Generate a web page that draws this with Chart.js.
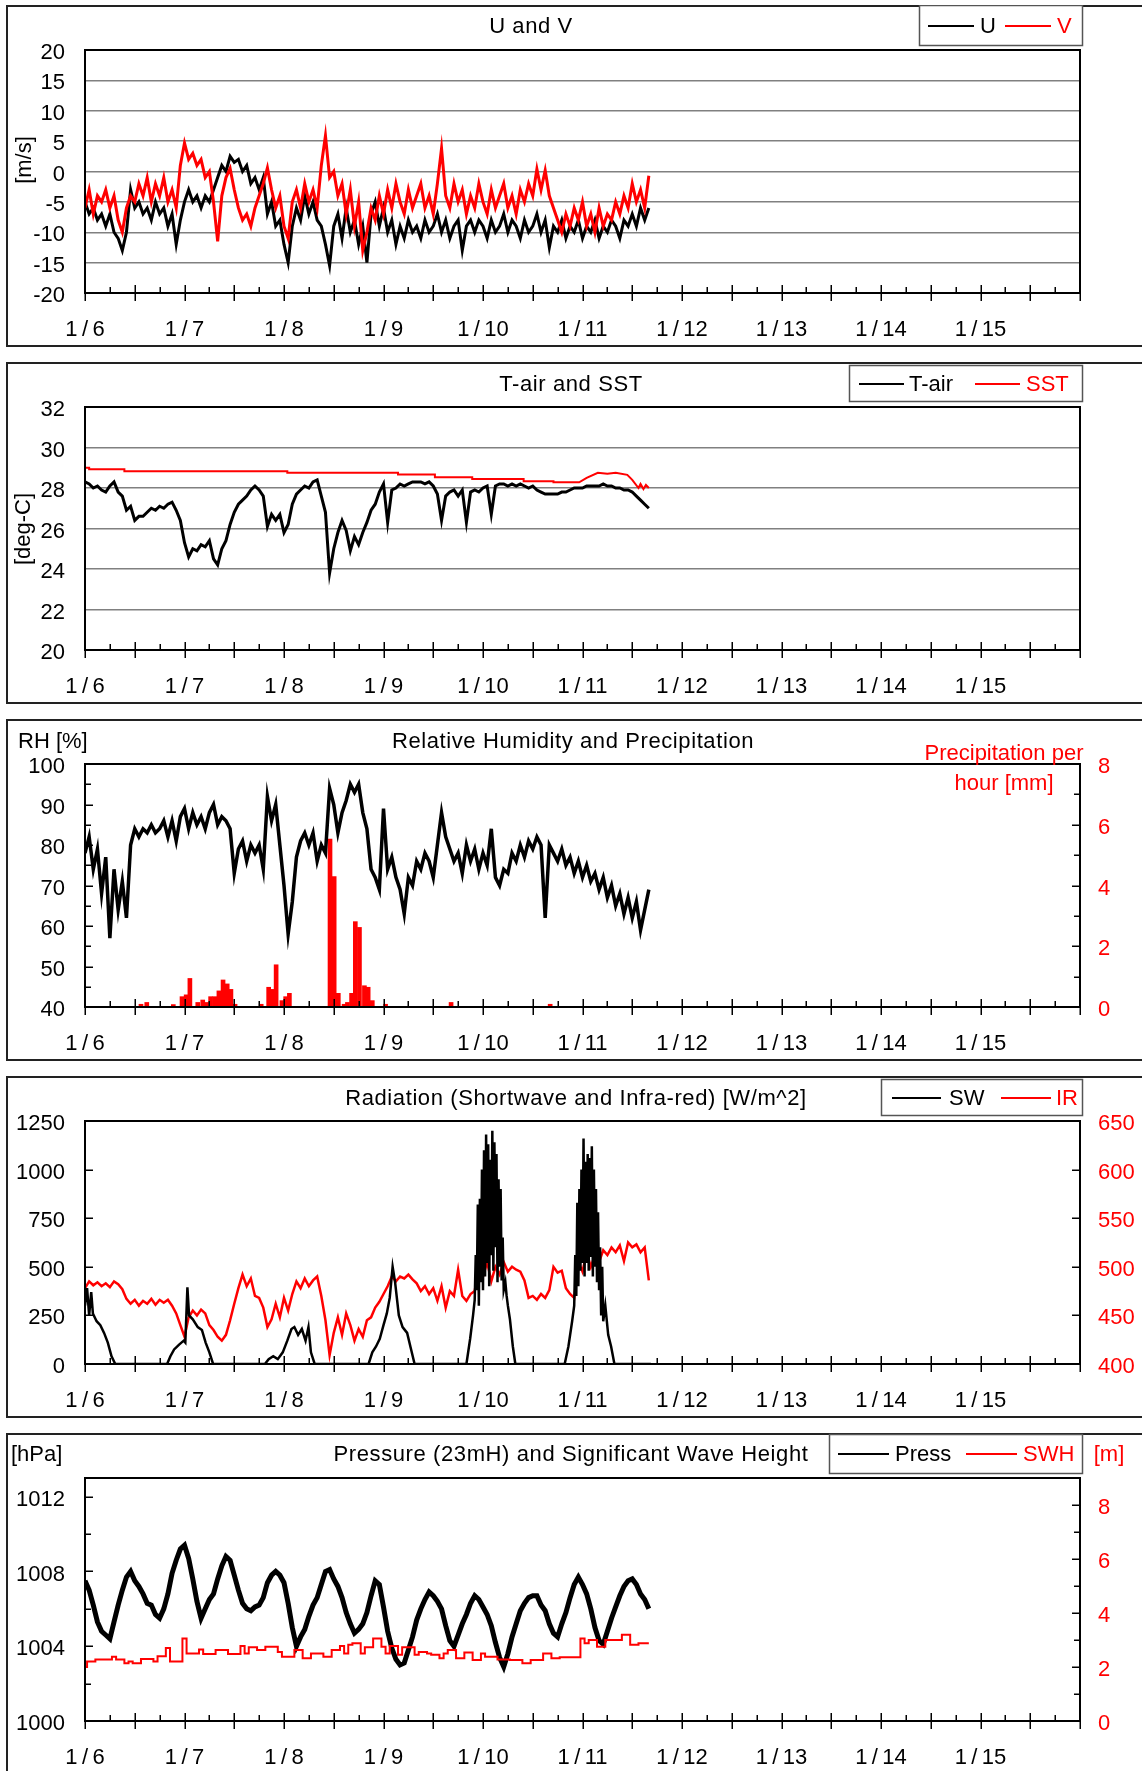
<!DOCTYPE html>
<html>
<head>
<meta charset="utf-8">
<title>Surface meteorology 1/6 - 1/15</title>
<script src="https://cdn.jsdelivr.net/npm/chart.js@4.4.1/dist/chart.umd.min.js"></script>
<style>
  html, body { margin: 0; padding: 0; background: #fff; }
  body { width: 1142px; height: 1771px; overflow: hidden; position: relative; }
  canvas { position: absolute; left: 0; }
</style>
</head>
<body>
<canvas id="wind" width="1142" height="342" style="top:5px"></canvas>
<canvas id="temp" width="1142" height="342" style="top:362px"></canvas>
<canvas id="humid" width="1142" height="342" style="top:719px"></canvas>
<canvas id="rad" width="1142" height="342" style="top:1076px"></canvas>
<canvas id="press" width="1142" height="342" style="top:1433px"></canvas>
<script>
const FONT = '"Liberation Sans", Arial, Helvetica, sans-serif';
const RED = '#ff0000';
Chart.defaults.font.family = FONT;
Chart.defaults.color = '#000';

// day labels on the x axes (value 0 = 1/6 00:00, one unit per day)
const dateLabels = ['1/6', '1/7', '1/8', '1/9', '1/10', '1/11', '1/12', '1/13', '1/14', '1/15'];

// hourly records from 1/6 00:00 to 1/11 16:00
const uWind = [
  -5, -7, -6, -8, -7, -9, -7, -10, -11, -13,
  -10, -3, -6, -5, -7, -6, -8, -5, -7, -6,
  -9, -7, -12, -8, -5, -3, -5, -4, -6, -4,
  -5, -3, -1, 1, 0, 2.5, 1.5, 2, 0, 1,
  -2, -1, -3, -1, -7, -5, -9, -8, -12, -15,
  -9, -6, -8, -4, -7, -5, -8, -9, -12, -15.5,
  -9, -7, -11, -6, -10, -8, -12, -9, -15, -7,
  -5, -9, -6, -10, -8, -12, -9, -11, -8, -10,
  -9, -11, -8, -10, -9, -7, -10, -8, -11, -9,
  -8, -13, -9, -8, -10, -8, -9, -11, -8, -10,
  -9, -7, -10, -8, -9, -11, -8, -10, -9, -7,
  -10, -8, -12.5, -9, -10, -8, -11, -9, -10, -8,
  -11, -9, -10, -8, -11, -9, -10, -8, -9, -11,
  -8, -9, -7, -9, -6, -8, -6
];
const vWind = [
  -6, -3, -7, -4, -5, -3, -6, -4, -8, -10,
  -6, -4, -5, -2, -4, -1, -5, -2, -4, -1,
  -5, -3, -6, 1, 4.7, 2, 3, 1, 2, -1,
  0, -5, -11.5, -4, -1, 0.5, -3, -6, -8, -7,
  -9, -6, -4, -2, 0.6, -3, -6, -4, -9, -11,
  -5, -3, -6, -2, -5, -3, -6, 1, 5.9, -1,
  0, -4, -2, -7, -3, -9, -5, -13, -10, -6,
  -8, -4, -7, -3, -6, -2, -5, -7, -3, -6,
  -4, -2, -6, -4, -7, -2, 3.8, -4, -6, -2,
  -5, -3, -7, -4, -6, -2, -5, -7, -3, -6,
  -4, -2, -6, -4, -7, -3, -5, -2, -4, 0.4,
  -3, 0.2, -4, -6, -8, -10, -7, -9, -6, -8,
  -5, -9, -7, -10, -6, -9, -7, -8, -5, -7,
  -4, -6, -2, -5, -3, -6, -0.7
];
const airTemp = [
  28.3, 28.2, 28.0, 28.1, 27.9, 27.8, 28.1, 28.3, 27.8, 27.6,
  26.9, 27.1, 26.4, 26.6, 26.6, 26.8, 27.0, 26.9, 27.1, 27.0,
  27.2, 27.3, 26.9, 26.4, 25.3, 24.6, 25.0, 24.9, 25.2, 25.1,
  25.4, 24.5, 24.2, 25.0, 25.4, 26.2, 26.8, 27.2, 27.4, 27.6,
  27.9, 28.1, 27.9, 27.6, 26.1, 26.7, 26.4, 26.7, 25.8, 26.2,
  27.2, 27.7, 27.9, 28.1, 28.0, 28.3, 28.4, 27.6, 26.8, 23.8,
  25.0, 25.8, 26.4, 25.9, 24.9, 25.6, 25.2, 25.8, 26.3, 26.9,
  27.2, 27.8, 28.2, 26.3, 27.9, 28.0, 28.2, 28.1, 28.2, 28.3,
  28.3, 28.3, 28.2, 28.3, 28.1, 27.7, 26.4, 27.6, 27.8, 27.9,
  27.6, 27.9, 26.3, 27.8, 27.9, 27.8, 28.0, 28.1, 26.7, 28.1,
  28.2, 28.2, 28.1, 28.2, 28.1, 28.2, 28.1, 28.0, 28.1, 27.9,
  27.8, 27.7, 27.7, 27.7, 27.7, 27.8, 27.8, 27.9, 28.0, 28.0,
  28.0, 28.1, 28.1, 28.1, 28.1, 28.2, 28.1, 28.1, 28.0, 28.0,
  27.9, 27.9, 27.8, 27.6, 27.4, 27.2, 27.0
];
const relHum = [
  78, 82, 74, 79, 68, 77, 57, 74, 64, 71,
  62, 80, 84, 82, 84, 83, 85, 83, 84, 86,
  82, 86, 81, 87, 89, 84, 88, 85, 87, 84,
  88, 90, 85, 87, 86, 84, 73, 79, 81, 76,
  80, 78, 80, 74, 92, 86, 90, 80, 70, 58,
  66, 77, 81, 83, 80, 83, 76, 80, 78, 94,
  90, 83, 88, 91, 95, 93, 95, 88, 84, 74,
  72, 69, 89, 74, 77, 72, 69, 63, 72, 70,
  76, 74, 78, 76, 72, 80, 88, 82, 79, 76,
  78, 73, 80, 76, 79, 74, 78, 75, 84, 72,
  70, 74, 73, 78, 76, 80, 77, 81, 79, 82,
  80, 62, 80, 78, 76, 79, 75, 77, 73, 76,
  72, 75, 71, 73, 69, 72, 67, 70, 65, 68,
  63, 67, 62, 66, 59, 64, 69
];
const infraRed = [
  478, 485, 481, 484, 480, 483, 479, 485, 482, 477,
  467, 462, 466, 460, 465, 462, 467, 461, 466, 463,
  466, 460, 452, 440, 428, 448, 455, 450, 456, 452,
  440, 435, 428, 424, 430, 445, 462, 478, 492, 480,
  488, 470, 468, 458, 438, 446, 462, 448, 468, 455,
  472, 485, 478, 488, 480, 486, 490, 470, 445, 409,
  432, 448, 430, 452, 440, 424, 436, 428, 445, 448,
  458, 464, 472, 480, 490, 485, 490, 488, 492, 487,
  483, 475, 480, 472, 478, 465, 480, 458, 475, 470,
  497, 470, 465, 472, 475, 502, 490, 505, 485, 500,
  492, 505, 495, 500, 497, 495, 486, 468, 470, 466,
  472, 468, 476, 500, 494, 496, 478, 472, 468, 505,
  495, 515, 500, 512, 505, 517, 512, 520, 515, 522,
  506, 525, 520, 523, 515, 520, 486
];
const pressure = [
  1007.5, 1007.0, 1006.2, 1005.3, 1004.8, 1004.6, 1004.4, 1005.3, 1006.2, 1007.0,
  1007.7, 1008.0, 1007.5, 1007.2, 1006.8, 1006.3, 1006.2, 1005.7, 1005.5, 1006.0,
  1006.8, 1007.9, 1008.6, 1009.2, 1009.4, 1008.7, 1007.6, 1006.4, 1005.5, 1006.0,
  1006.5, 1006.8, 1007.6, 1008.3, 1008.8, 1008.6, 1007.8, 1007.0, 1006.3, 1006.0,
  1005.9, 1006.1, 1006.2, 1006.6, 1007.4, 1007.8, 1008.0, 1007.8, 1007.4, 1006.3,
  1005.0, 1004.0, 1004.5, 1004.9, 1005.6, 1006.2, 1006.6, 1007.3, 1008.0, 1008.1,
  1007.6, 1007.2, 1006.6, 1005.8, 1005.2, 1004.7, 1004.9, 1005.2, 1005.8, 1006.7,
  1007.5, 1007.3, 1006.1, 1004.8, 1003.9, 1003.3, 1003.0, 1003.1, 1003.8, 1004.5,
  1005.4, 1006.0, 1006.5, 1006.9, 1006.7, 1006.4, 1006.0, 1005.1, 1004.3, 1004.0,
  1004.6, 1005.2, 1005.7, 1006.3, 1006.7, 1006.5, 1006.1, 1005.7, 1005.1, 1004.2,
  1003.4, 1002.9, 1003.6, 1004.5, 1005.2, 1005.9, 1006.3, 1006.6, 1006.7, 1006.7,
  1006.2, 1005.9, 1005.2, 1004.7, 1004.5, 1005.2, 1005.8, 1006.6, 1007.3, 1007.7,
  1007.3, 1006.8, 1006.0, 1005.0, 1004.3, 1004.1, 1004.8, 1005.5, 1006.1, 1006.7,
  1007.2, 1007.5, 1007.6, 1007.3, 1006.8, 1006.5, 1006.0
];
const waveHeight = [
  2.0, 2.2, 2.2, 2.28, 2.28, 2.28, 2.28, 2.38, 2.28, 2.28,
  2.14, 2.2, 2.14, 2.14, 2.3, 2.3, 2.3, 2.2, 2.4, 2.4,
  2.7, 2.2, 2.2, 2.2, 3.06, 2.5, 2.5, 2.5, 2.65, 2.48,
  2.48, 2.48, 2.63, 2.63, 2.63, 2.48, 2.48, 2.48, 2.78, 2.5,
  2.73, 2.73, 2.63, 2.63, 2.75, 2.75, 2.75, 2.56, 2.38, 2.38,
  2.38, 2.63, 2.63, 2.32, 2.32, 2.5, 2.5, 2.5, 2.38, 2.38,
  2.63, 2.63, 2.78, 2.5, 2.82, 2.88, 2.88, 2.5, 2.73, 2.73,
  3.06, 3.06, 2.75, 2.5, 2.78, 2.78, 2.45, 2.73, 2.73, 2.73,
  2.45, 2.56, 2.56, 2.5, 2.45, 2.45, 2.32, 2.5, 2.63, 2.63,
  2.32, 2.32, 2.54, 2.54, 2.26, 2.26, 2.5, 2.38, 2.38, 2.38,
  2.28, 2.28, 2.28, 2.26, 2.26, 2.26, 2.14, 2.14, 2.26, 2.26,
  2.26, 2.5, 2.5, 2.32, 2.32, 2.36, 2.36, 2.36, 2.36, 2.36,
  3.06, 2.88, 3.0, 3.0, 2.75, 2.75, 3.0, 3.0, 3.0, 3.0,
  3.19, 3.19, 2.82, 2.82, 2.88, 2.88, 2.88
];

// sea surface temperature, logged on change (hours from 1/6 00:00)
const sstHour = [0, 1, 1, 9.5, 9.5, 48.8, 48.8, 75.5, 75.5, 84.4, 84.4, 93.4, 93.4, 105.8, 105.8,
  113, 113, 119.2, 121, 123.7, 126, 128, 130.8, 132, 133.5, 134, 134.7, 135.3, 136];
const sst = [29.0, 29.0, 28.92, 28.92, 28.83, 28.83, 28.75, 28.75, 28.67, 28.67, 28.53, 28.53, 28.45, 28.45, 28.33,
  28.33, 28.28, 28.28, 28.5, 28.75, 28.7, 28.75, 28.65, 28.4, 28.0, 28.2, 27.95, 28.15, 28.0];

// hourly rain totals (start hour of each wet hour, mm)
const precipHour = [13, 14.4, 20.8, 22.9, 23.9, 24.8, 26.7, 27.9, 28.9, 29.8, 30.8, 31.8, 32.8, 33.8, 34.7, 35.7,
  42, 43.8, 44.7, 45.6, 47, 47.9, 48.8, 58.6, 59.6, 60.6, 62, 62.8, 63.8, 64.7, 65.7, 66.9, 67.8, 68.8,
  72, 87.8, 111.7];
const precip = [0.09, 0.15, 0.08, 0.34, 0.4, 0.94, 0.15, 0.23, 0.15, 0.34, 0.34, 0.53, 0.89, 0.76, 0.58, 0.09,
  0.09, 0.65, 0.58, 1.39, 0.21, 0.34, 0.45, 5.53, 4.29, 0.45, 0.09, 0.15, 0.45, 2.81, 2.62, 0.7, 0.65, 0.21,
  0.09, 0.15, 0.09];

// shortwave radiation, daylight hours sampled finer
const swHour = [0, 0.5, 1.0, 1.5, 1.9, 2.8, 3.7, 4.6, 5.5, 6.4, 7.3,
  19.8, 20.6, 21.5, 22.7, 23.8, 24.2, 24.7, 25.1, 26.0, 27.2, 28.2, 29.1, 30.0, 30.9,
  43.4, 44.3, 45.4, 46.5, 47.7, 48.8, 49.8, 50.5, 51.4, 52.3, 53.2, 53.9, 54.5, 55.4,
  68.4, 69.3, 70.2, 71.1, 72.0, 72.8, 73.5, 74.2, 74.8, 75.7, 76.6, 77.7, 78.6, 79.5,
  92.0, 92.9, 93.6, 94.0, 94.25, 94.5, 94.75, 95.0, 95.25, 95.5, 95.75, 96.0, 96.25, 96.5, 96.75,
  97.0, 97.25, 97.5, 97.75, 98.0, 98.25, 98.5, 98.75, 99.0, 99.25, 99.5, 99.75, 100.0, 100.25,
  100.5, 100.75, 101.0, 101.4, 101.7, 102.0, 102.5, 103.2, 103.8,
  115.7, 116.6, 117.5, 118.0, 118.25, 118.5, 118.75, 119.0, 119.25, 119.5, 119.75, 120.0, 120.25,
  120.5, 120.75, 121.0, 121.25, 121.5, 121.75, 122.0, 122.25, 122.5, 122.75, 123.0, 123.25, 123.5,
  123.75, 124.0, 124.25, 124.5, 124.75, 125.0, 125.5, 126.2, 126.9, 127.7,
  136.5];
const shortwave = [300, 390, 250, 370, 260, 220, 200, 160, 110, 40, 0,
  0, 40, 75, 100, 120, 110, 395, 250, 230, 190, 175, 110, 60, 0,
  0, 25, 40, 25, 60, 120, 180, 190, 150, 180, 120, 190, 60, 0,
  0, 60, 90, 130, 200, 260, 340, 500, 420, 250, 190, 160, 80, 0,
  0, 130, 250, 330, 560, 380, 820, 300, 850, 420, 1000, 380, 1100, 450, 1180,
  520, 1130, 400, 1050, 560, 1200, 480, 1140, 600, 1080, 420, 950, 500, 900,
  430, 650, 380, 420, 350, 300, 230, 90, 0,
  0, 90, 220, 300, 560, 350, 830, 400, 900, 480, 1000, 520, 1160,
  450, 1040, 520, 1080, 480, 1060, 550, 1120, 450, 1000, 500, 900, 420,
  780, 380, 600, 250, 500, 220, 300, 150, 90, 0,
  0];

// ---- helpers ----
const hourly = vals => vals.map((v, i) => ({ x: i / 24, y: v }));
const timed = (hrs, vals, shift = 0) => vals.map((v, i) => ({ x: (hrs[i] + shift) / 24, y: v }));

function line(label, data, color, width, extra) {
  return Object.assign({
    type: 'line', label, data, borderColor: color, backgroundColor: color,
    borderWidth: width, pointRadius: 0, tension: 0, fill: false
  }, extra || {});
}

function xScale() {
  return {
    type: 'linear', min: 0, max: 10, offset: false,
    afterFit: s => { s.height = 54; },
    grid: { display: false, drawTicks: false, offset: false },
    border: { display: false },
    ticks: {
      stepSize: 1, autoSkip: false, maxRotation: 0, padding: 24, color: '#000',
      font: { family: FONT, size: 22 },
      callback: v => (dateLabels[v] || '').replace('/', '\u2009/\u2009')
    }
  };
}

function yScale(min, max, step, o = {}) {
  const s = {
    position: o.right ? 'right' : 'left', min, max,
    afterFit: sc => { sc.width = o.right ? 62 : 85; },
    grid: { display: !!o.grid, color: '#808080', lineWidth: 1.5, drawTicks: false },
    border: { display: false },
    ticks: {
      stepSize: step, padding: o.right ? 18 : 20, color: o.color || '#000', labelOffset: 3,
      font: { family: FONT, size: 22 }, callback: v => String(v)
    }
  };
  if (o.ticks) s.afterBuildTicks = sc => { sc.ticks = o.ticks.map(v => ({ value: v })); };
  return s;
}

function drawText(ctx, t) {
  ctx.save();
  ctx.font = (t.size || 22) + 'px ' + FONT;
  ctx.fillStyle = t.color || '#000';
  ctx.textAlign = t.align || 'center';
  ctx.textBaseline = 'middle';
  if (t.spacing) ctx.letterSpacing = t.spacing + 'px';
  if (t.rotate) {
    ctx.translate(t.x, t.y);
    ctx.rotate(-Math.PI / 2);
    ctx.fillText(t.text, 0, 0);
  } else {
    ctx.fillText(t.text, t.x, t.y + 2);
  }
  ctx.restore();
}

// titles, legends and frames for each panel (coordinates inside the panel)
const DECOR = {
  wind: {
    title: { text: 'U and V', x: 531, y: 20 },
    legend: { box: [919, 0, 1082, 40], y: 20, items: [
      { x0: 928, x1: 974, label: 'U', lx: 980, color: '#000' },
      { x0: 1005, x1: 1051, label: 'V', lx: 1057, color: RED }] },
    notes: [{ text: '[m/s]', x: 25, y: 155, rotate: true }],
    yTicks: []
  },
  temp: {
    title: { text: 'T-air and SST', x: 571, y: 21 },
    legend: { box: [849, 3, 1082, 39], y: 21, items: [
      { x0: 859, x1: 904, label: 'T-air', lx: 909, color: '#000' },
      { x0: 975, x1: 1020, label: 'SST', lx: 1026, color: RED }] },
    notes: [{ text: '[deg-C]', x: 24, y: 167, rotate: true }],
    yTicks: []
  },
  humid: {
    title: { text: 'Relative Humidity and Precipitation', x: 573, y: 21 },
    notes: [
      { text: 'RH [%]', x: 18, y: 21, align: 'left' },
      { text: 'Precipitation per', x: 1004, y: 33, color: RED },
      { text: 'hour [mm]', x: 1004, y: 63, color: RED }],
    yTicks: [
      { axis: 'y', major: [40, 50, 60, 70, 80, 90, 100], minor: [45, 55, 65, 75, 85, 95] },
      { axis: 'y1', major: [0, 2, 4, 6, 8], minor: [1, 3, 5, 7] }]
  },
  rad: {
    title: { text: 'Radiation (Shortwave and Infra-red) [W/m^2]', x: 576, y: 21 },
    legend: { box: [881, 3, 1082, 39], y: 21, items: [
      { x0: 892, x1: 941, label: 'SW', lx: 949, color: '#000' },
      { x0: 1001, x1: 1051, label: 'IR', lx: 1056, color: RED }] },
    notes: [],
    yTicks: [
      { axis: 'y', major: [0, 250, 500, 750, 1000, 1250], minor: [] },
      { axis: 'y1', major: [400, 450, 500, 550, 600, 650], minor: [] }]
  },
  press: {
    title: { text: 'Pressure (23mH) and Significant Wave Height', x: 571, y: 20 },
    legend: { box: [829, 1, 1082, 40], y: 20, items: [
      { x0: 838, x1: 889, label: 'Press', lx: 895, color: '#000' },
      { x0: 966, x1: 1017, label: 'SWH', lx: 1023, color: RED }] },
    notes: [
      { text: '[hPa]', x: 11, y: 20, align: 'left' },
      { text: '[m]', x: 1109, y: 20, color: RED }],
    yTicks: [
      { axis: 'y', major: [1000, 1004, 1008, 1012], minor: [1002, 1006, 1010] },
      { axis: 'y1', major: [0, 2, 4, 6, 8], minor: [1, 3, 5, 7] }]
  }
};

const panelDecor = {
  id: 'panelDecor',
  beforeDraw(chart) {
    const ctx = chart.ctx;
    ctx.save();
    ctx.fillStyle = '#fff';
    ctx.fillRect(0, 0, chart.width, chart.height);
    ctx.strokeStyle = '#222';
    ctx.lineWidth = 2;
    ctx.strokeRect(7, 1, chart.width + 20, chart.height - 2);
    ctx.restore();
  },
  afterDraw(chart) {
    const d = DECOR[chart.canvas.id];
    const { ctx, chartArea: a } = chart;
    ctx.save();

    // plot frame
    ctx.strokeStyle = '#000';
    ctx.lineWidth = 2;
    ctx.strokeRect(a.left, a.top, a.right - a.left, a.bottom - a.top);

    // time axis ticks: half-day crossing ticks, quarter-day inner ticks
    const xs = chart.scales.x;
    ctx.lineWidth = 1.5;
    ctx.beginPath();
    for (let q = 0; q <= 40; q++) {
      const px = Math.round(xs.getPixelForValue(q / 4)) + 0.25;
      if (q % 2 === 0) { ctx.moveTo(px, a.bottom - 8); ctx.lineTo(px, a.bottom + 8); }
      else { ctx.moveTo(px, a.bottom - 6); ctx.lineTo(px, a.bottom); }
    }
    ctx.stroke();

    // inner ticks on the value axes
    d.yTicks.forEach(t => {
      const s = chart.scales[t.axis];
      const left = s.position === 'left';
      const edge = left ? a.left : a.right;
      const dir = left ? 1 : -1;
      ctx.beginPath();
      t.major.forEach(v => {
        const py = Math.round(s.getPixelForValue(v)) + 0.25;
        ctx.moveTo(edge, py); ctx.lineTo(edge + dir * 8, py);
      });
      t.minor.forEach(v => {
        const py = Math.round(s.getPixelForValue(v)) + 0.25;
        ctx.moveTo(edge, py); ctx.lineTo(edge + dir * 6, py);
      });
      ctx.stroke();
    });

    // legend box
    if (d.legend) {
      const [x0, y0, x1, y1] = d.legend.box;
      ctx.fillStyle = '#fff';
      ctx.fillRect(x0, y0, x1 - x0, y1 - y0);
      ctx.strokeStyle = '#555';
      ctx.lineWidth = 1.5;
      ctx.strokeRect(x0 + 0.5, y0 + 0.5, x1 - x0, y1 - y0);
      d.legend.items.forEach(it => {
        ctx.strokeStyle = it.color;
        ctx.lineWidth = 2;
        ctx.beginPath();
        ctx.moveTo(it.x0, d.legend.y + 1);
        ctx.lineTo(it.x1, d.legend.y + 1);
        ctx.stroke();
        drawText(ctx, { text: it.label, x: it.lx, y: d.legend.y, color: it.color, align: 'left' });
      });
    }

    drawText(ctx, Object.assign({ spacing: 0.6 }, d.title));
    d.notes.forEach(n => drawText(ctx, n));
    ctx.restore();
  }
};

function options(scales, hasRight) {
  return {
    responsive: false,
    animation: false,
    devicePixelRatio: 1,
    events: [],
    layout: { padding: { top: 45, left: 0, bottom: 0, right: hasRight ? 0 : 62 } },
    plugins: { legend: { display: false }, tooltip: { enabled: false } },
    scales
  };
}

// U and V
new Chart(document.getElementById('wind'), {
  type: 'line',
  data: { datasets: [
    line('V', hourly(vWind), RED, 3, { order: 0 }),
    line('U', hourly(uWind), '#000', 3, { order: 1 })
  ] },
  options: options({ x: xScale(), y: yScale(-20, 20, 5, { grid: true }) }, false),
  plugins: [panelDecor]
});

// T-air and SST
new Chart(document.getElementById('temp'), {
  type: 'line',
  data: { datasets: [
    line('T-air', hourly(airTemp), '#000', 3, { order: 0 }),
    line('SST', timed(sstHour, sst), RED, 2, { order: 1 })
  ] },
  options: options({ x: xScale(), y: yScale(20, 32, 2, { grid: true }) }, false),
  plugins: [panelDecor]
});

// relative humidity with hourly precipitation bars
new Chart(document.getElementById('humid'), {
  type: 'line',
  data: { datasets: [
    line('RH', hourly(relHum), '#000', 3.5, { order: 0 }),
    {
      type: 'bar', label: 'Precipitation', data: timed(precipHour, precip, 0.5),
      yAxisID: 'y1', backgroundColor: RED, borderWidth: 0, barThickness: 4, order: 1
    }
  ] },
  options: options({
    x: xScale(),
    y: yScale(40, 100, 10),
    y1: yScale(0, 8, 2, { right: true, color: RED })
  }, true),
  plugins: [panelDecor]
});

// shortwave and infra-red radiation
new Chart(document.getElementById('rad'), {
  type: 'line',
  data: { datasets: [
    line('SW', timed(swHour, shortwave), '#000', 2.5, { order: 0 }),
    line('IR', hourly(infraRed), RED, 2.5, { order: 1, yAxisID: 'y1' })
  ] },
  options: options({
    x: xScale(),
    y: yScale(0, 1250, 250),
    y1: yScale(400, 650, 50, { right: true, color: RED })
  }, true),
  plugins: [panelDecor]
});

// pressure and significant wave height
new Chart(document.getElementById('press'), {
  type: 'line',
  data: { datasets: [
    line('SWH', hourly(waveHeight), RED, 2, { order: 0, yAxisID: 'y1', stepped: 'middle' }),
    line('Press', hourly(pressure), '#000', 5, { order: 1 })
  ] },
  options: options({
    x: xScale(),
    y: yScale(1000, 1013, 4, { ticks: [1000, 1004, 1008, 1012] }),
    y1: yScale(0, 9, 2, { right: true, color: RED, ticks: [0, 2, 4, 6, 8] })
  }, true),
  plugins: [panelDecor]
});
</script>
</body>
</html>
